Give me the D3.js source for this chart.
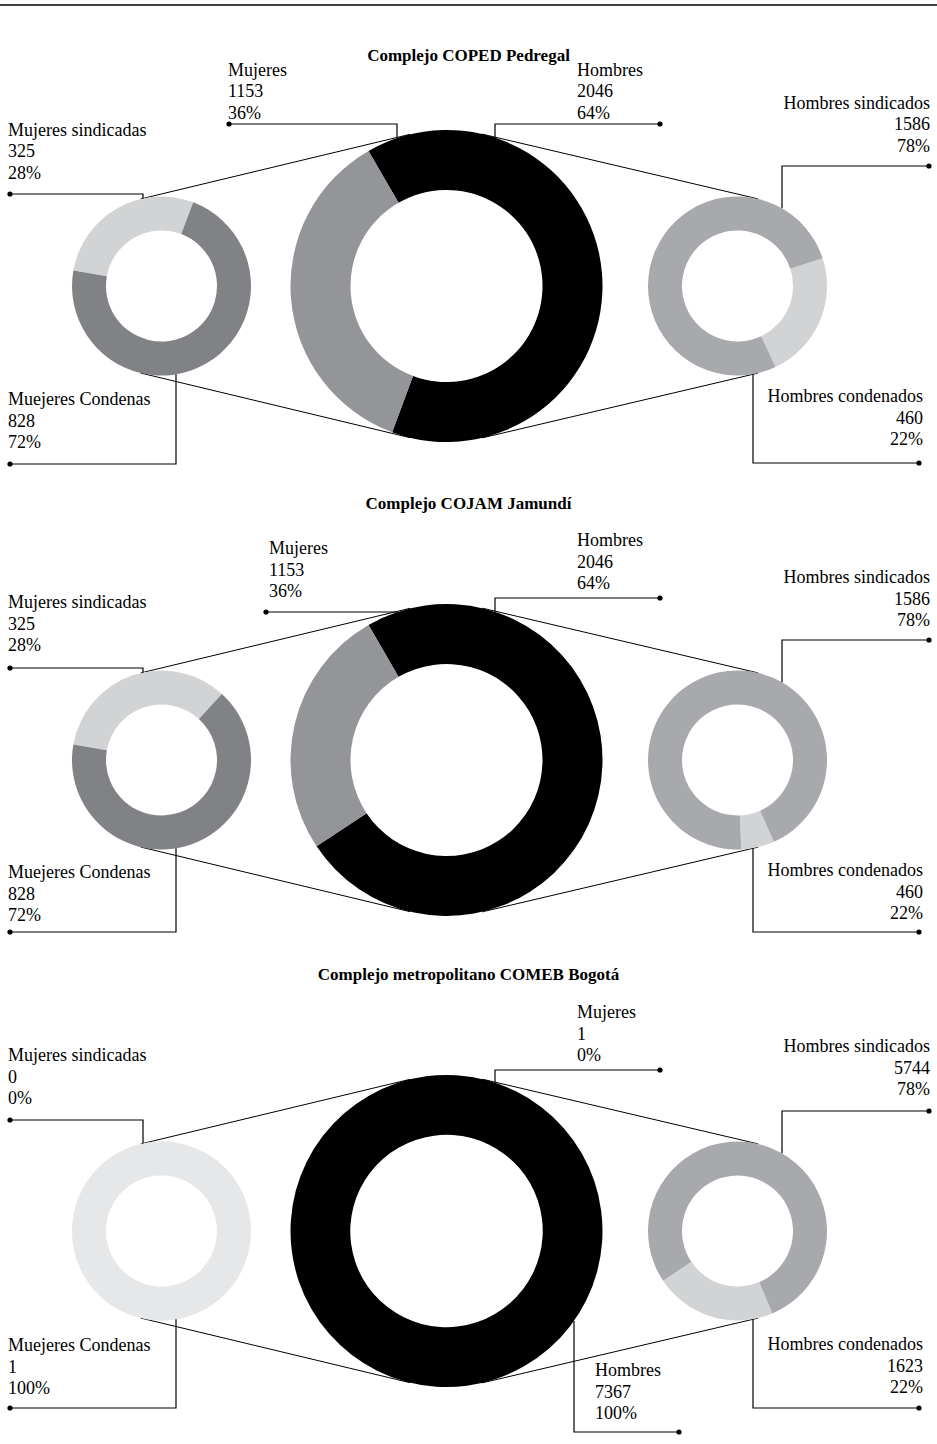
<!DOCTYPE html>
<html>
<head>
<meta charset="utf-8">
<script src="https://cdn.jsdelivr.net/npm/d3@7"></script>
<style>
  html, body { margin: 0; padding: 0; background: #fff; }
  svg { display: block; }
  text { font-family: "Liberation Serif", "DejaVu Serif", serif; fill: #000; }
</style>
</head>
<body>
<div id="chart"></div>
<script>
// ---------------- DATA ----------------
const titles = ["Complejo COPED Pedregal", "Complejo COJAM Jamundí", "Complejo metropolitano COMEB Bogotá"];

// Label values (as printed)
const mujeresCount = [1153, 1153, 1];
const mujeresPct   = ["36%", "36%", "0%"];
const hombresCount = [2046, 2046, 7367];
const hombresPct   = ["64%", "64%", "100%"];
const mujSindCount = [325, 325, 0];
const mujSindPct   = ["28%", "28%", "0%"];
const mujCondCount = [828, 828, 1];
const mujCondPct   = ["72%", "72%", "100%"];
const homSindCount = [1586, 1586, 5744];
const homSindPct   = ["78%", "78%", "78%"];
const homCondCount = [460, 460, 1623];
const homCondPct   = ["22%", "22%", "22%"];

// Ring shares as drawn in the picture (%)
const centerArcHombres = [64, 74, 100];
const centerArcMujeres = [36, 26, 0];
const leftArcSind      = [28, 34, 0];
const leftArcCond      = [72, 66, 100];
const rightArcCond     = [23, 6, 22];
const rightArcSind     = [77, 94, 78];

// ---------------- LAYOUT / STYLE ----------------
const W = 937, H = 1444;
const panelCY = [286, 760, 1231];
const titleY = [61, 509, 980];
const cxLeft = 161.5, cxCenter = 446.5, cxRight = 737.5;
const rSmallOut = 89.5, rSmallIn = 55.5;
const rBigOut = 156, rBigIn = 96;
const deg = Math.PI / 180;
const centerStart = -30 * deg;
const leftStart = -80 * deg;
const rightStart = [72 * deg, 156 * deg, 157 * deg];

const colHombres = "#000000", colMujeres = "#939598";
const colLeftSind = "#d1d3d4";
const colLeftCond = ["#808285", "#808285", "#e6e7e8"];
const colRightSind = "#a7a9ac", colRightCond = "#d1d3d4";

const fontSize = 18, lineH = 21.5;

// label placement per panel
const labelLayout = [
  [
    {key: "muj", tx: 228, anchor: "start", by: 75.5, dot: [229, 124], ex: 397, ring: "c", side: -1},
    {key: "hom", tx: 577, anchor: "start", by: 75.5, dot: [660, 124], ex: 495, ring: "c", side: -1},
    {key: "ms", tx: 8, anchor: "start", by: 135.5, dot: [10, 194], ex: 143, ring: "l", side: -1},
    {key: "mc", tx: 8, anchor: "start", by: 405, dot: [10, 464], ex: 176, ring: "l", side: 1},
    {key: "hs", tx: 930, anchor: "end", by: 108.5, dot: [929, 166], ex: 782, ring: "r", side: -1},
    {key: "hc", tx: 923, anchor: "end", by: 402, dot: [919, 463], ex: 753, ring: "r", side: 1}
  ],
  [
    {key: "muj", tx: 269, anchor: "start", by: 554, dot: [266, 612], ex: 397, ring: "c", side: -1},
    {key: "hom", tx: 577, anchor: "start", by: 546, dot: [660, 598], ex: 495, ring: "c", side: -1},
    {key: "ms", tx: 8, anchor: "start", by: 608, dot: [10, 668], ex: 143, ring: "l", side: -1},
    {key: "mc", tx: 8, anchor: "start", by: 878, dot: [10, 932], ex: 176, ring: "l", side: 1},
    {key: "hs", tx: 930, anchor: "end", by: 583, dot: [929, 640], ex: 782, ring: "r", side: -1},
    {key: "hc", tx: 923, anchor: "end", by: 876, dot: [919, 932], ex: 753, ring: "r", side: 1}
  ],
  [
    {key: "muj", tx: 577, anchor: "start", by: 1018, dot: [660, 1070], ex: 495, ring: "c", side: -1},
    {key: "hom", tx: 595, anchor: "start", by: 1376, dot: [679, 1432], ex: 574, ring: "c", side: 1},
    {key: "ms", tx: 8, anchor: "start", by: 1061, dot: [10, 1120], ex: 143, ring: "l", side: -1},
    {key: "mc", tx: 8, anchor: "start", by: 1351, dot: [10, 1408], ex: 176, ring: "l", side: 1},
    {key: "hs", tx: 930, anchor: "end", by: 1052, dot: [929, 1111], ex: 782, ring: "r", side: -1},
    {key: "hc", tx: 923, anchor: "end", by: 1350, dot: [919, 1408], ex: 753, ring: "r", side: 1}
  ]
];

// ---------------- DRAW ----------------
const svg = d3.select("#chart").append("svg").attr("width", W).attr("height", H);

svg.append("line").attr("x1", 0).attr("x2", W).attr("y1", 5).attr("y2", 5)
  .attr("stroke", "#000").attr("stroke-width", 1.5);

const smallArc = d3.arc().innerRadius(rSmallIn).outerRadius(rSmallOut);
const bigArc = d3.arc().innerRadius(rBigIn).outerRadius(rBigOut);

function tangents(c1x, r1, c2x, r2, cy) {
  const cos = (r1 - r2) / (c2x - c1x);
  const sin = Math.sqrt(1 - cos * cos);
  return [-1, 1].map(s => {
    const nx = cos, ny = s * sin;
    return [[c1x + r1 * nx, cy + r1 * ny], [c2x + r2 * nx, cy + r2 * ny]];
  });
}

titles.forEach((title, i) => {
  const cy = panelCY[i];
  const g = svg.append("g");

  g.append("text").attr("x", W / 2).attr("y", titleY[i]).attr("text-anchor", "middle")
    .attr("font-size", 17).attr("font-weight", "bold").text(title);

  // tangent connector lines
  const segs = tangents(cxLeft, rSmallOut, cxCenter, rBigOut, cy)
    .concat(tangents(cxCenter, rBigOut, cxRight, rSmallOut, cy));
  g.selectAll("line.tan").data(segs).join("line").attr("class", "tan")
    .attr("x1", d => d[0][0]).attr("y1", d => d[0][1])
    .attr("x2", d => d[1][0]).attr("y2", d => d[1][1])
    .attr("stroke", "#000").attr("stroke-width", 1);

  // center donut
  const centerData = [
    {v: centerArcHombres[i], c: colHombres},
    {v: centerArcMujeres[i], c: colMujeres}
  ];
  const pieC = d3.pie().sort(null).value(d => d.v).startAngle(centerStart).endAngle(centerStart + 2 * Math.PI);
  g.append("g").attr("transform", `translate(${cxCenter},${cy})`)
    .selectAll("path").data(pieC(centerData)).join("path")
    .attr("d", bigArc).attr("fill", d => d.data.c);

  // left donut
  const leftData = [
    {v: leftArcSind[i], c: colLeftSind},
    {v: leftArcCond[i], c: colLeftCond[i]}
  ];
  const pieL = d3.pie().sort(null).value(d => d.v).startAngle(leftStart).endAngle(leftStart + 2 * Math.PI);
  g.append("g").attr("transform", `translate(${cxLeft},${cy})`)
    .selectAll("path").data(pieL(leftData)).join("path")
    .attr("d", smallArc).attr("fill", d => d.data.c);

  // right donut
  const rightData = [
    {v: rightArcCond[i], c: colRightCond},
    {v: rightArcSind[i], c: colRightSind}
  ];
  const rs = rightStart[i];
  const pieR = d3.pie().sort(null).value(d => d.v).startAngle(rs).endAngle(rs + 2 * Math.PI);
  g.append("g").attr("transform", `translate(${cxRight},${cy})`)
    .selectAll("path").data(pieR(rightData)).join("path")
    .attr("d", smallArc).attr("fill", d => d.data.c);

  // labels
  const texts = {
    muj: ["Mujeres", String(mujeresCount[i]), mujeresPct[i]],
    hom: ["Hombres", String(hombresCount[i]), hombresPct[i]],
    ms: ["Mujeres sindicadas", String(mujSindCount[i]), mujSindPct[i]],
    mc: ["Muejeres Condenas", String(mujCondCount[i]), mujCondPct[i]],
    hs: ["Hombres sindicados", String(homSindCount[i]), homSindPct[i]],
    hc: ["Hombres condenados", String(homCondCount[i]), homCondPct[i]]
  };
  const rings = {
    c: {x: cxCenter, r: rBigOut},
    l: {x: cxLeft, r: rSmallOut},
    r: {x: cxRight, r: rSmallOut}
  };

  labelLayout[i].forEach(L => {
    const ring = rings[L.ring];
    const dx = L.ex - ring.x;
    const edgeY = cy + L.side * Math.sqrt(Math.max(0, ring.r * ring.r - dx * dx));
    g.append("path")
      .attr("d", `M${L.dot[0]},${L.dot[1]}H${L.ex}V${edgeY}`)
      .attr("fill", "none").attr("stroke", "#000").attr("stroke-width", 1.2);
    g.append("circle").attr("cx", L.dot[0]).attr("cy", L.dot[1]).attr("r", 2.6).attr("fill", "#000");
    const t = g.append("text").attr("font-size", fontSize).attr("text-anchor", L.anchor);
    texts[L.key].forEach((s, k) => {
      t.append("tspan").attr("x", L.tx).attr("y", L.by + k * lineH).text(s);
    });
  });
});
</script>
</body>
</html>
